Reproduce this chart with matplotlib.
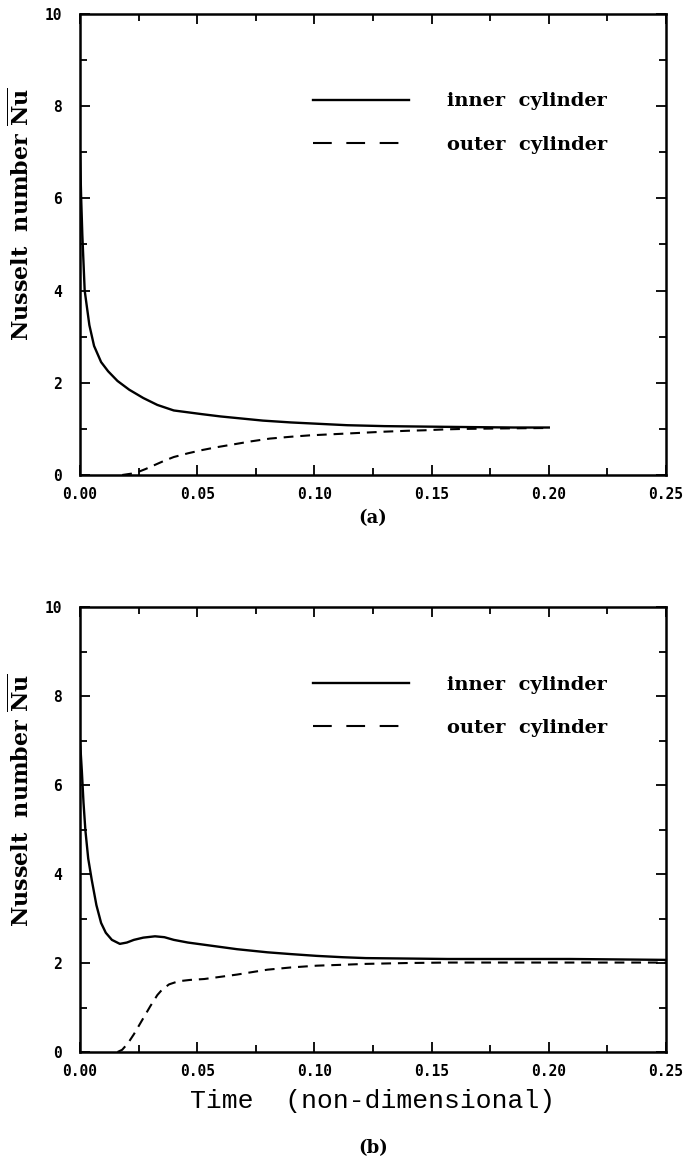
import matplotlib
matplotlib.use("Agg")
import matplotlib.pyplot as plt
from matplotlib.lines import Line2D
import numpy as np

# ---- data ----
t_inner_a = [0.0, 0.0005, 0.001, 0.002, 0.004, 0.006, 0.009, 0.012, 0.016, 0.021, 0.027, 0.033, 0.040,
             0.046, 0.052, 0.060, 0.068, 0.078, 0.090, 0.102, 0.114, 0.130, 0.147, 0.165, 0.185, 0.200]
nu_inner_a = [7.0, 6.0, 5.2, 4.0, 3.25, 2.8, 2.45, 2.25, 2.04, 1.85, 1.67, 1.52, 1.40,
              1.36, 1.32, 1.27, 1.23, 1.18, 1.14, 1.11, 1.08, 1.06, 1.05, 1.04, 1.03, 1.03]
t_outer_a = [0.018, 0.022, 0.025, 0.028, 0.032, 0.036, 0.040, 0.046, 0.052, 0.058, 0.065, 0.073, 0.081,
             0.090, 0.098, 0.106, 0.114, 0.122, 0.130, 0.140, 0.147, 0.156, 0.164, 0.180, 0.200]
nu_outer_a = [0.0, 0.03, 0.07, 0.13, 0.22, 0.31, 0.39, 0.47, 0.54, 0.60, 0.66, 0.73, 0.79,
              0.83, 0.86, 0.88, 0.90, 0.92, 0.94, 0.96, 0.97, 0.99, 1.00, 1.01, 1.02]

t_inner_b = [0.0, 0.0008, 0.0015, 0.0023, 0.0035, 0.005, 0.007, 0.009, 0.011, 0.0136, 0.017, 0.020, 0.023,
             0.027, 0.032, 0.036, 0.040, 0.046, 0.053, 0.060, 0.067, 0.080, 0.090, 0.101, 0.112, 0.122,
             0.140, 0.157, 0.180, 0.209, 0.230, 0.250]
nu_inner_b = [7.0, 6.3, 5.6, 4.98, 4.35, 3.87, 3.3, 2.9, 2.68, 2.52, 2.43, 2.46, 2.52,
              2.57, 2.60, 2.58, 2.52, 2.46, 2.41, 2.36, 2.31, 2.24, 2.20, 2.16, 2.13, 2.11,
              2.10, 2.09, 2.09, 2.09, 2.08, 2.07]
t_outer_b = [0.016, 0.018, 0.0205, 0.023, 0.025, 0.028, 0.030, 0.033, 0.035, 0.038, 0.042, 0.047, 0.053,
             0.060, 0.067, 0.074, 0.080, 0.090, 0.101, 0.112, 0.122, 0.140, 0.157, 0.180, 0.210, 0.250]
nu_outer_b = [0.0, 0.05, 0.2, 0.4, 0.58, 0.85, 1.03, 1.28, 1.40, 1.52, 1.59, 1.62, 1.64,
              1.69, 1.74, 1.80, 1.85, 1.90, 1.94, 1.96, 1.98, 2.00, 2.01, 2.01, 2.01, 2.01]

xticks = [0.00, 0.05, 0.10, 0.15, 0.20, 0.25]
xticklabels = ["0.00", "0.05", "0.10", "0.15", "0.20", "0.25"]
yticks = [0, 2, 4, 6, 8, 10]
labels = ["inner  cylinder", "outer  cylinder"]
panel_tags = ["(a)", "(b)"]

mono = "DejaVu Sans Mono"
typew = "Liberation Mono"
serif = "DejaVu Serif"
plt.rcParams["mathtext.fontset"] = "dejavuserif"

fig = plt.figure(figsize=(6.86, 11.63), dpi=100)
ax1 = fig.add_axes([80 / 686, 1 - 475 / 1163, 586 / 686, 461 / 1163])
ax2 = fig.add_axes([80 / 686, 1 - 1052 / 1163, 586 / 686, 445 / 1163])

plot_dash = (0, (4.7, 3.3))
legend_dash = (0, (9, 7))
panels = [(ax1, t_inner_a, nu_inner_a, t_outer_a, nu_outer_a, 0.83),
          (ax2, t_inner_b, nu_inner_b, t_outer_b, nu_outer_b, 0.845)]

for ax, ti, ni, to, no, legy in panels:
    ax.plot(ti, ni, color="black", lw=1.7)
    ax.plot(to, no, color="black", lw=1.5, linestyle=plot_dash)
    ax.set_xlim(0, 0.25)
    ax.set_ylim(0, 10)
    ax.set_xticks(xticks)
    ax.set_xticklabels(xticklabels, family=mono, fontweight="bold", fontsize=10.5)
    ax.set_xticks(np.arange(0.025, 0.25, 0.05), minor=True)
    ax.set_yticks(yticks)
    ax.set_yticklabels([str(v) for v in yticks], family=mono, fontweight="bold", fontsize=10.5)
    ax.set_yticks([1, 3, 5, 7, 9], minor=True)
    ax.tick_params(which="both", direction="in", top=True, right=True, width=1.3)
    ax.tick_params(which="major", length=7)
    ax.tick_params(which="minor", length=5)
    ax.tick_params(axis="x", which="major", pad=9)
    ax.tick_params(axis="y", which="major", pad=13)
    for s in ax.spines.values():
        s.set_linewidth(1.8)
    ax.set_ylabel(r"Nusselt  number $\overline{\mathbf{Nu}}$", family=serif, fontweight="bold",
                  fontsize=16)
    ax.yaxis.set_label_coords(-0.078, 0.566)
    handles = [Line2D([], [], color="black", lw=1.7),
               Line2D([], [], color="black", lw=1.5, linestyle=legend_dash)]
    ax.legend(handles, labels, loc="upper left", bbox_to_anchor=(0.398, legy), frameon=False,
              handlelength=4.9, handletextpad=2.0, labelspacing=1.3,
              borderpad=0, borderaxespad=0,
              prop={"family": serif, "weight": "bold", "size": 14})

ax2.set_xlabel("Time  (non-dimensional)", family=typew, fontsize=19, labelpad=7)

fig.text(373 / 686, 1 - 518 / 1163, panel_tags[0], family=serif, fontweight="bold", fontsize=13,
         ha="center", va="center")
fig.text(373 / 686, 1 - 1148 / 1163, panel_tags[1], family=serif, fontweight="bold", fontsize=13,
         ha="center", va="center")

fig.savefig("out.png", dpi=100)
